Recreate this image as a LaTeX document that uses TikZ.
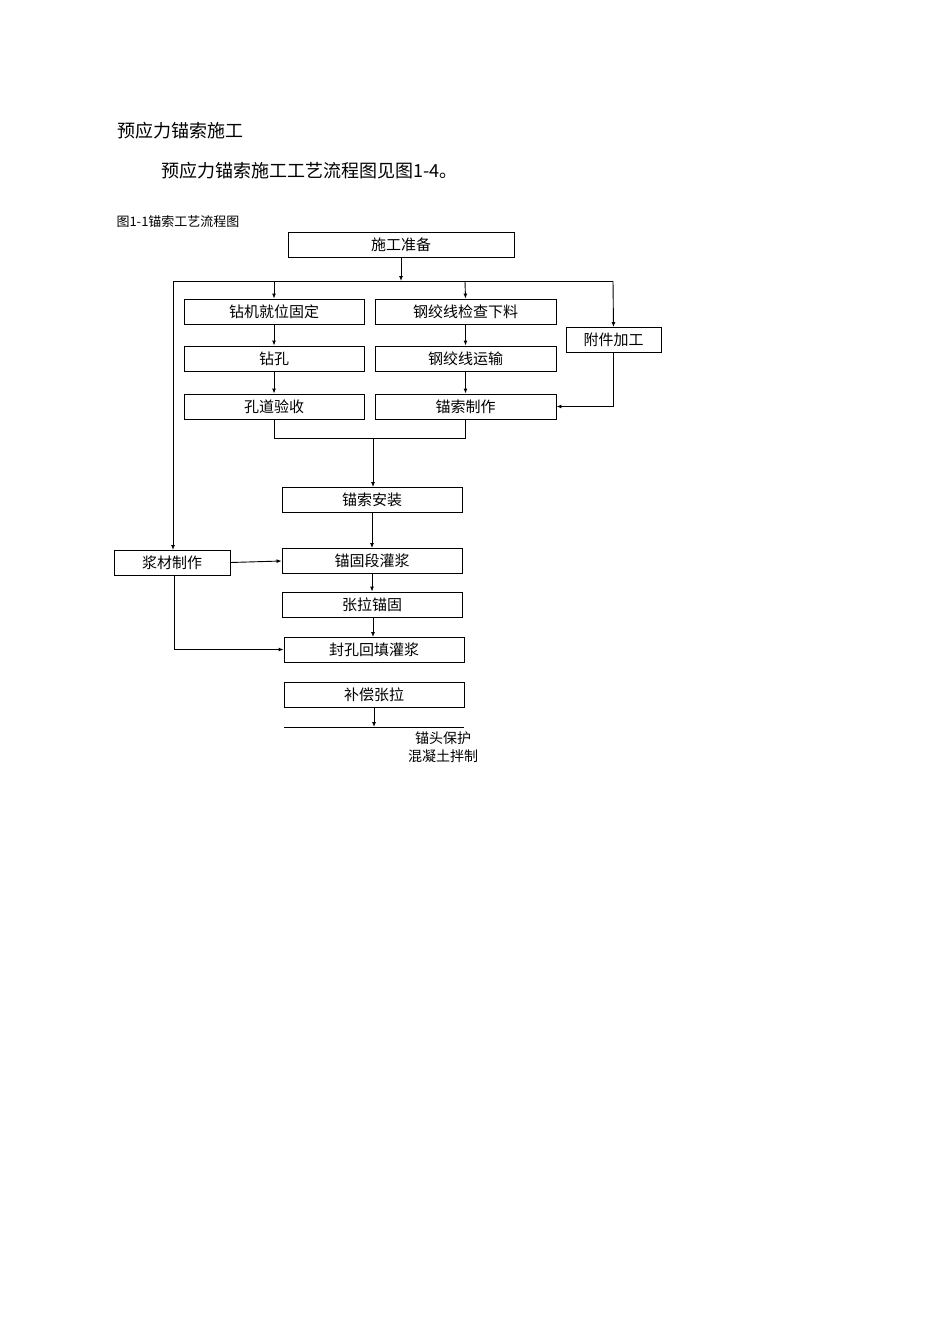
\documentclass[tikz,border=0pt]{standalone}
\usepackage{fontspec}
\setmainfont{Noto Sans CJK SC}
\usetikzlibrary{arrows.meta}
\begin{document}
\begin{tikzpicture}[x=1pt,y=-1pt,
  bx/.style={draw,line width=0.9pt,minimum height=25pt,inner sep=0pt,font=\fontsize{15}{15}\selectfont},
  ar/.style={-{Latex[length=5pt,width=4pt]},line width=0.9pt},
  ln/.style={line width=0.9pt}]
\useasboundingbox (0,0) rectangle (950,1344);
\node[anchor=west,font=\fontsize{18}{18}\selectfont] (h1) at (114,131) {预应力锚索施工};
\node[anchor=west,font=\fontsize{18}{18}\selectfont] (h2) at (158,171) {预应力锚索施工工艺流程图见图1-4。};
\node[anchor=west,font=\fontsize{13}{13}\selectfont] (cap) at (113,222) {图1-1锚索工艺流程图};
\node[bx,minimum width=226pt] (a) at (401,245) {施工准备};
\node[bx,minimum width=180pt] (b1) at (274,311.5) {钻机就位固定};
\node[bx,minimum width=181pt] (c1) at (465.5,311.5) {钢绞线检查下料};
\node[bx,minimum width=95pt] (d) at (613.5,340) {附件加工};
\node[bx,minimum width=180pt] (b2) at (274,358.5) {钻孔};
\node[bx,minimum width=181pt] (c2) at (465.5,358.5) {钢绞线运输};
\node[bx,minimum width=180pt] (b3) at (274,406.5) {孔道验收};
\node[bx,minimum width=181pt] (c3) at (465.5,406.5) {锚索制作};
\node[bx,minimum width=180pt] (e) at (372,500) {锚索安装};
\node[bx,minimum width=116pt] (j) at (172,562.5) {浆材制作};
\node[bx,minimum width=180pt] (f) at (372,561) {锚固段灌浆};
\node[bx,minimum width=180pt] (g) at (372,604.5) {张拉锚固};
\node[bx,minimum width=180pt] (h) at (374,649.5) {封孔回填灌浆};
\node[bx,minimum width=180pt] (k) at (374,694.5) {补偿张拉};
\coordinate (bar) at (374,727);
\draw[ln] (284,727) -- (464,727);
\node[font=\fontsize{14}{14}\selectfont] (t1) at (443,738) {锚头保护};
\node[font=\fontsize{14}{14}\selectfont] (t2) at (443,756) {混凝土拌制};
% top distribution
\draw[ar] (a.south) -- (401,281);
\draw[ln] (173,281) -- (613,281);
\draw[ar] (274,281) -- (b1.north);
\draw[ar] (465,281) -- (c1.north);
\draw[ar] (613,281) -- (d.north);
\draw[ar] (173,281) -- (173,550);
\draw[ar] (b1) -- (b2);
\draw[ar] (b2) -- (b3);
\draw[ar] (c1) -- (c2);
\draw[ar] (c2) -- (c3);
\draw[ar] (d.south) |- (c3.east);
\draw[ln] (b3.south) -- (274,438) -- (465,438) -- (465,419);
\draw[ar] (373,438) -- (e.north -| 373,0);
\draw[ar] (e) -- (f);
\draw[ar] (j.east) -- (f.west);
\draw[ar] (f) -- (g);
\draw[ar] (373,617) -- (373,637);
\draw[ar] (174,575) |- (h.west);
\draw[ar] (k) -- (bar);
\end{tikzpicture}
\end{document}
